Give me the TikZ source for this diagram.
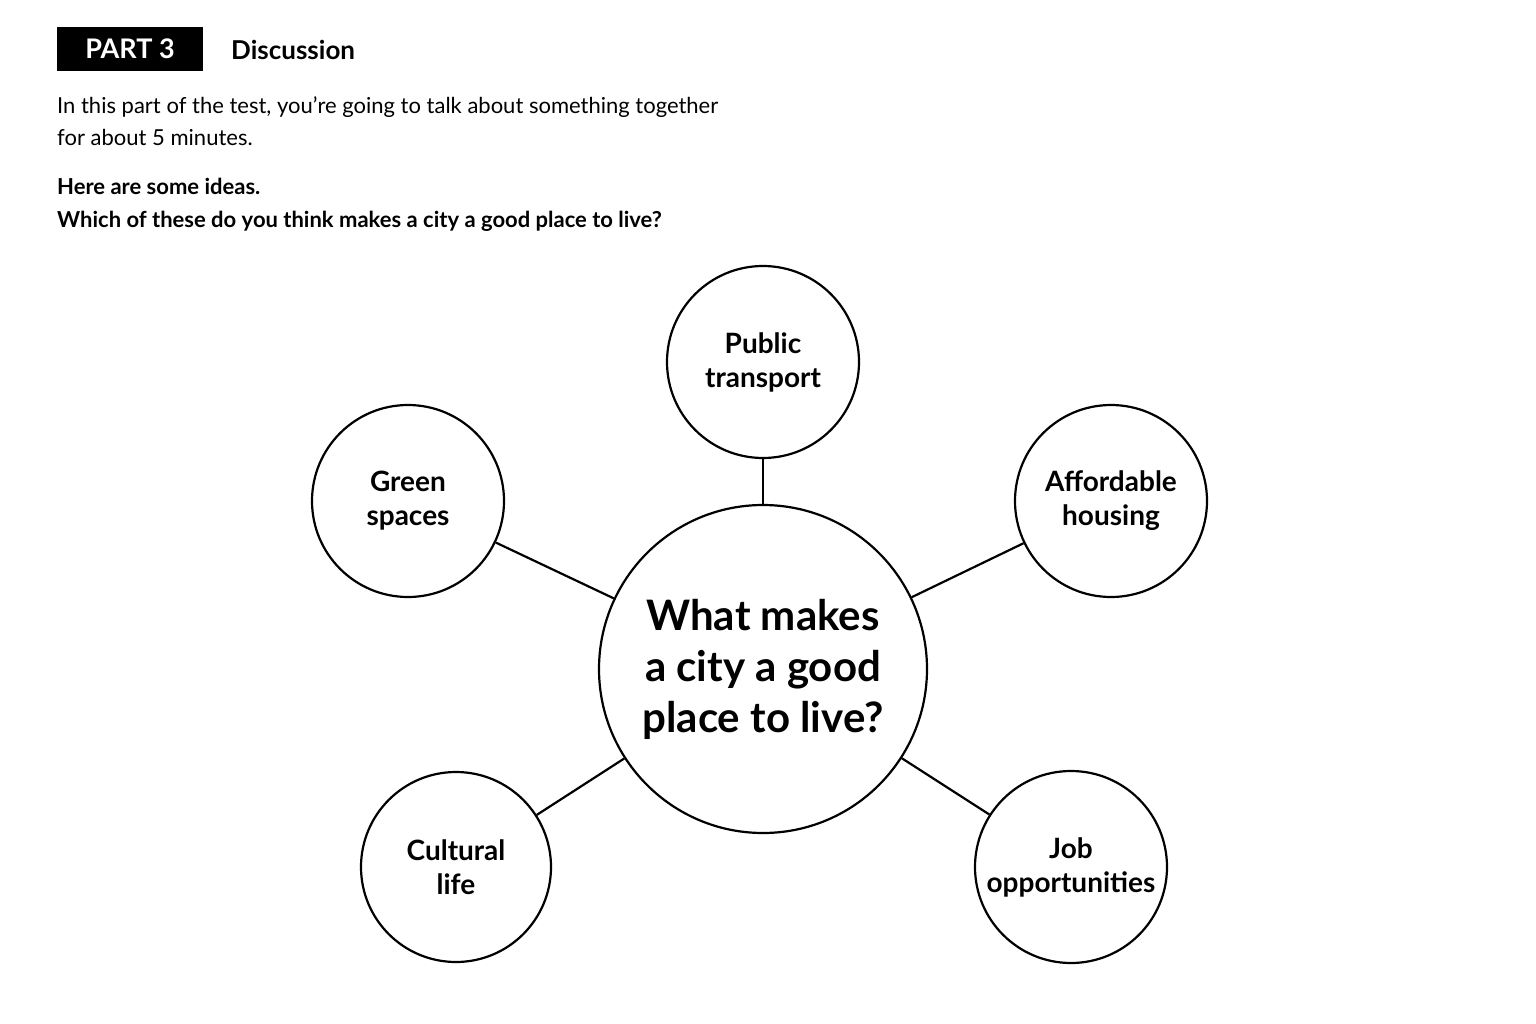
\documentclass[tikz,border=0pt]{standalone}
\usepackage{fontspec}
\setmainfont{Lato}
\begin{document}
\begin{tikzpicture}[x=1pt,y=-1pt,
  idea/.style={circle,draw,line width=2.2pt,minimum size=192pt,inner sep=0pt,align=center,font=\fontsize{28}{34}\selectfont\bfseries},
  link/.style={line width=2.2pt}]
\useasboundingbox (0,0) rectangle (1536,1024);
\fill[white] (0,0) rectangle (1536,1024);
\node[fill=black,text=white,minimum width=146pt,minimum height=44pt,inner sep=0pt,font=\fontsize{27}{30}\selectfont\bfseries] (part) at (130,49) {PART 3};
\node[anchor=west,inner sep=0pt,font=\fontsize{26}{30}\selectfont\bfseries] (disc) at (231,50) {Discussion};
\node[anchor=north west,inner sep=0pt,align=left,font=\fontsize{22}{32}\selectfont] (intro) at (57,96) {In this part of the test, you’re going to talk about something together\\for about 5 minutes.};
\node[anchor=north west,inner sep=0pt,align=left,font=\fontsize{22}{33}\selectfont\bfseries] (ask) at (57,178) {Here are some ideas.\\Which of these do you think makes a city a good place to live?};
\node[circle,draw,line width=2.2pt,minimum size=328pt,inner sep=0pt,align=center,font=\fontsize{42}{51}\selectfont\bfseries] (c) at (763,669) {What makes\\a city a good\\place to live?};
\node[idea] (pt) at (763,362) {Public\\transport};
\node[idea] (gs) at (408,501) {Green\\spaces};
\node[idea] (ah) at (1111,501) {Affordable\\housing};
\node[idea,minimum size=190pt] (cl) at (456,867) {Cultural\\life};
\node[idea] (jo) at (1071,867) {Job\\opportunities};
\foreach \n in {pt,gs,ah,cl,jo} \draw[link] (c) -- (\n);
\end{tikzpicture}
\end{document}
